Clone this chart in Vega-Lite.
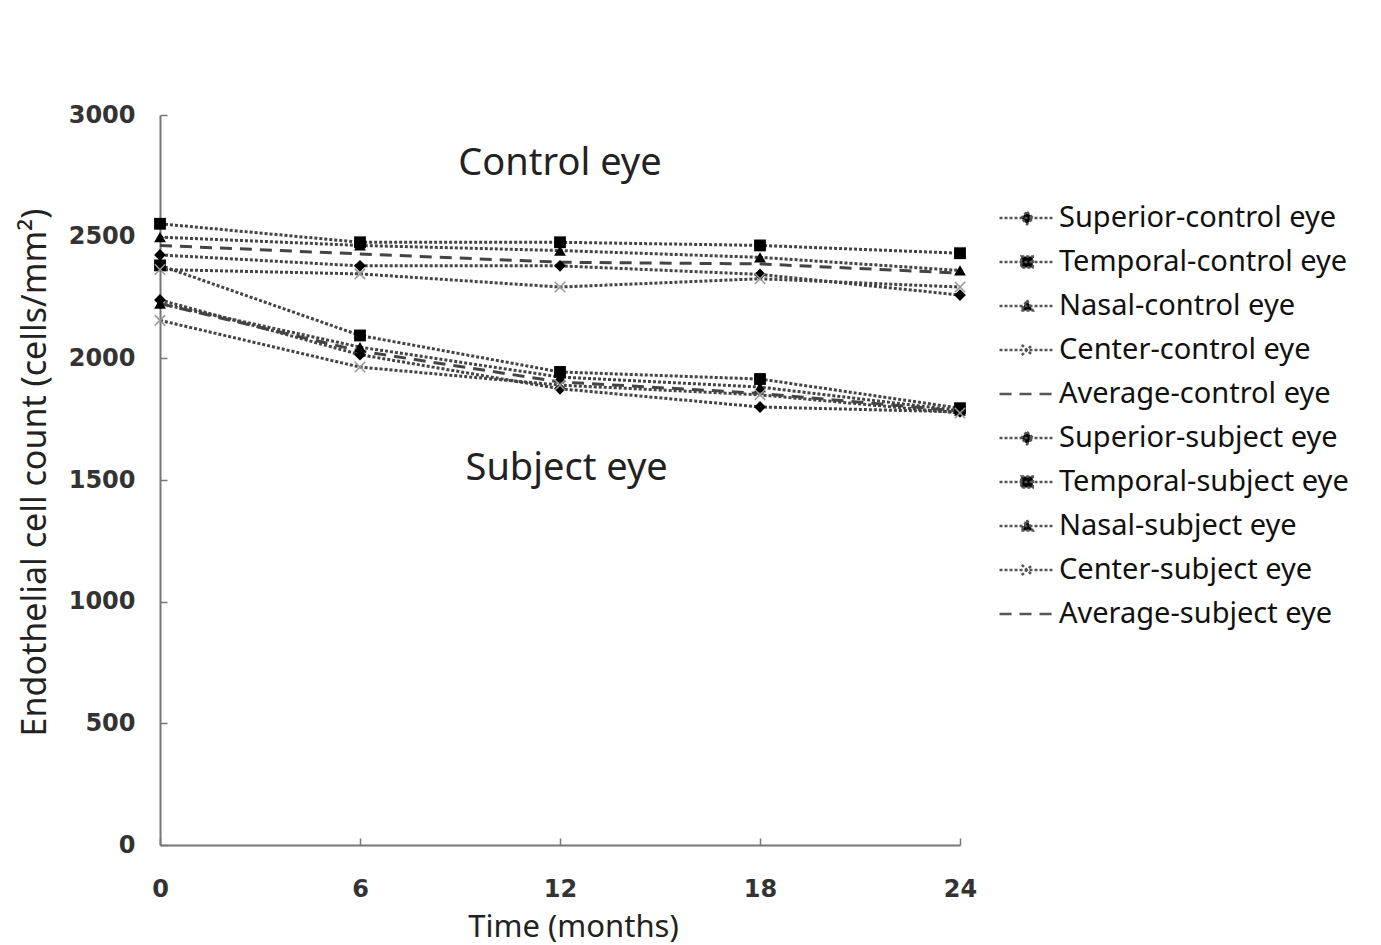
{
  "$schema": "https://vega.github.io/schema/vega-lite/v6.json",
  "width": 800,
  "height": 730,
  "autosize": {"type": "none"},
  "padding": {"left": 160, "top": 115, "right": 421, "bottom": 100},
  "background": "white",
  "config": {
    "view": {"stroke": null},
    "axis": {
      "domainColor": "#777",
      "domainWidth": 2,
      "tickColor": "#777",
      "tickWidth": 1.5,
      "tickSize": -7,
      "grid": false,
      "labelFont": "DejaVu Sans",
      "labelFontWeight": "bold",
      "labelFontSize": 24,
      "labelColor": "#333",
      "labelFlush": false,
      "titleFont": "Noto Sans",
      "titleFontWeight": "normal",
      "titleColor": "#222"
    }
  },
  "data": {
    "values": [
      {"t": 0, "v": 2425, "series": "Superior-control eye"},
      {"t": 6, "v": 2380, "series": "Superior-control eye"},
      {"t": 12, "v": 2380, "series": "Superior-control eye"},
      {"t": 18, "v": 2345, "series": "Superior-control eye"},
      {"t": 24, "v": 2260, "series": "Superior-control eye"},
      {"t": 0, "v": 2553, "series": "Temporal-control eye"},
      {"t": 6, "v": 2477, "series": "Temporal-control eye"},
      {"t": 12, "v": 2477, "series": "Temporal-control eye"},
      {"t": 18, "v": 2464, "series": "Temporal-control eye"},
      {"t": 24, "v": 2432, "series": "Temporal-control eye"},
      {"t": 0, "v": 2498, "series": "Nasal-control eye"},
      {"t": 6, "v": 2464, "series": "Nasal-control eye"},
      {"t": 12, "v": 2443, "series": "Nasal-control eye"},
      {"t": 18, "v": 2415, "series": "Nasal-control eye"},
      {"t": 24, "v": 2361, "series": "Nasal-control eye"},
      {"t": 0, "v": 2365, "series": "Center-control eye"},
      {"t": 6, "v": 2347, "series": "Center-control eye"},
      {"t": 12, "v": 2293, "series": "Center-control eye"},
      {"t": 18, "v": 2327, "series": "Center-control eye"},
      {"t": 24, "v": 2293, "series": "Center-control eye"},
      {"t": 0, "v": 2464, "series": "Average-control eye"},
      {"t": 6, "v": 2429, "series": "Average-control eye"},
      {"t": 12, "v": 2395, "series": "Average-control eye"},
      {"t": 18, "v": 2388, "series": "Average-control eye"},
      {"t": 24, "v": 2350, "series": "Average-control eye"},
      {"t": 0, "v": 2240, "series": "Superior-subject eye"},
      {"t": 6, "v": 2015, "series": "Superior-subject eye"},
      {"t": 12, "v": 1875, "series": "Superior-subject eye"},
      {"t": 18, "v": 1800, "series": "Superior-subject eye"},
      {"t": 24, "v": 1780, "series": "Superior-subject eye"},
      {"t": 0, "v": 2382, "series": "Temporal-subject eye"},
      {"t": 6, "v": 2094, "series": "Temporal-subject eye"},
      {"t": 12, "v": 1944, "series": "Temporal-subject eye"},
      {"t": 18, "v": 1915, "series": "Temporal-subject eye"},
      {"t": 24, "v": 1795, "series": "Temporal-subject eye"},
      {"t": 0, "v": 2225, "series": "Nasal-subject eye"},
      {"t": 6, "v": 2046, "series": "Nasal-subject eye"},
      {"t": 12, "v": 1923, "series": "Nasal-subject eye"},
      {"t": 18, "v": 1882, "series": "Nasal-subject eye"},
      {"t": 24, "v": 1785, "series": "Nasal-subject eye"},
      {"t": 0, "v": 2156, "series": "Center-subject eye"},
      {"t": 6, "v": 1964, "series": "Center-subject eye"},
      {"t": 12, "v": 1890, "series": "Center-subject eye"},
      {"t": 18, "v": 1850, "series": "Center-subject eye"},
      {"t": 24, "v": 1775, "series": "Center-subject eye"},
      {"t": 0, "v": 2225, "series": "Average-subject eye"},
      {"t": 6, "v": 2030, "series": "Average-subject eye"},
      {"t": 12, "v": 1903, "series": "Average-subject eye"},
      {"t": 18, "v": 1856, "series": "Average-subject eye"},
      {"t": 24, "v": 1783, "series": "Average-subject eye"}
    ]
  },
  "encoding": {
    "x": {
      "field": "t",
      "type": "quantitative",
      "scale": {"domain": [0, 24], "nice": false, "zero": false},
      "axis": {
        "values": [0, 6, 12, 18, 24],
        "format": "d",
        "title": "Time (months)",
        "titleFontSize": 31,
        "labelPadding": 39,
        "titleX": 413,
        "titleY": 82,
        "titleBaseline": "middle"
      }
    },
    "y": {
      "field": "v",
      "type": "quantitative",
      "scale": {"domain": [0, 3000], "nice": false},
      "axis": {
        "values": [0, 500, 1000, 1500, 2000, 2500, 3000],
        "format": "d",
        "title": "Endothelial cell count (cells/mm²)",
        "titleFontSize": 34,
        "labelPadding": 32,
        "titleX": -125,
        "titleY": 357,
        "titleBaseline": "middle",
        "titleAngle": -90
      }
    }
  },
  "layer": [
    {
      "mark": {"type": "line", "color": "#444", "strokeWidth": 3},
      "encoding": {
        "strokeDash": {
          "field": "series",
          "type": "nominal",
          "scale": {
            "domain": ["Superior-control eye", "Temporal-control eye", "Nasal-control eye", "Center-control eye", "Average-control eye", "Superior-subject eye", "Temporal-subject eye", "Nasal-subject eye", "Center-subject eye", "Average-subject eye"],
            "range": [[3, 2], [3, 2], [3, 2], [3, 2], [12, 8], [3, 2], [3, 2], [3, 2], [3, 2], [12, 8]]
          },
          "legend": {
            "orient": "none",
            "legendX": 852,
            "legendY": 88,
            "title": null,
            "labelFont": "Noto Sans",
            "labelFontSize": 29,
            "labelColor": "#111",
            "labelLimit": 400,
            "labelOffset": 17,
            "symbolSize": 756,
            "symbolStrokeWidth": 2.5,
            "symbolStrokeColor": "#555",
            "rowPadding": 14,
            "encode": {
              "symbols": {
                "update": {
                  "shape": {"signal": "indexof(datum.value,'Superior')==0 ? 'M-2,0L2,0M0,-0.45L0.42,0L0,0.45L-0.42,0Z' : indexof(datum.value,'Temporal')==0 ? 'M-2,0L2,0M-0.42,-0.4L0.42,-0.4L0.42,0.4L-0.42,0.4Z' : indexof(datum.value,'Nasal')==0 ? 'M-2,0L2,0M0,-0.42L0.42,0.32L-0.42,0.32Z' : indexof(datum.value,'Center')==0 ? 'M-2,0L2,0M-0.38,-0.38L0.38,0.38M-0.38,0.38L0.38,-0.38' : 'M-2,0L2,0'"},
                  "fill": {"value": "#000"},
                  "stroke": {"value": "#555"}
                }
              }
            }
          }
        }
      }
    },
    {
      "transform": [{"filter": "indexof(datum.series,'Average')<0 && indexof(datum.series,'Center')<0"}],
      "mark": {"type": "point", "filled": true, "color": "#000", "opacity": 1, "size": 140},
      "encoding": {
        "shape": {
          "field": "series",
          "type": "nominal",
          "scale": {
            "domain": ["Superior-control eye", "Temporal-control eye", "Nasal-control eye", "Superior-subject eye", "Temporal-subject eye", "Nasal-subject eye"],
            "range": ["diamond", "square", "triangle-up", "diamond", "square", "triangle-up"]
          },
          "legend": null
        }
      }
    },
    {
      "transform": [{"filter": "indexof(datum.series,'Center')==0"}],
      "mark": {"type": "point", "shape": "M-1,-1L1,1M-1,1L1,-1", "filled": false, "color": "#999", "strokeWidth": 1.5, "size": 110, "opacity": 1}
    },
    {
      "data": {"values": [{"t": 12, "v": 2800, "label": "Control eye"}, {"t": 12.2, "v": 1545, "label": "Subject eye"}]},
      "mark": {"type": "text", "font": "Noto Sans", "fontSize": 38, "color": "#222", "baseline": "middle", "align": "center"},
      "encoding": {
        "x": {"field": "t", "type": "quantitative"},
        "y": {"field": "v", "type": "quantitative"},
        "text": {"field": "label"}
      }
    }
  ]
}
